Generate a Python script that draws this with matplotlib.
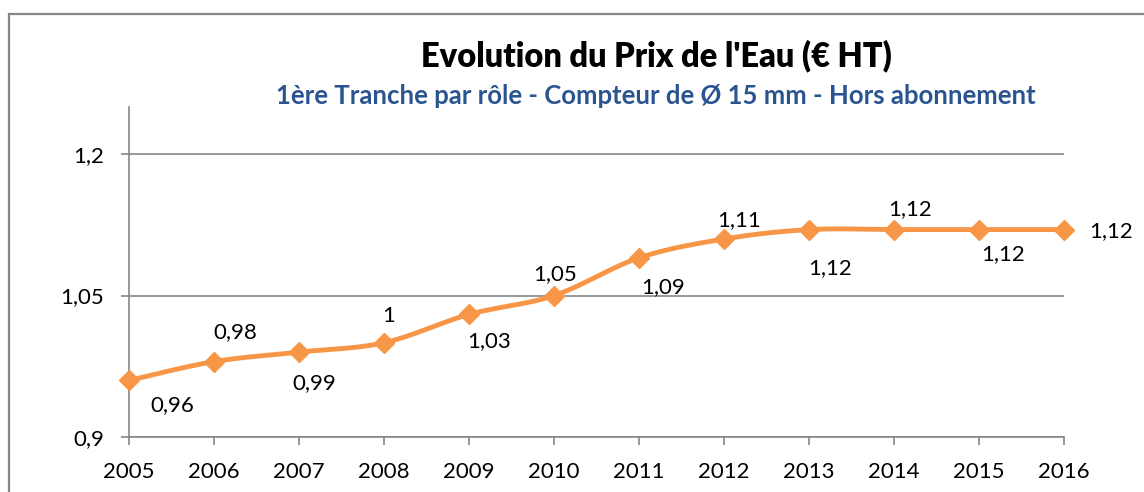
import matplotlib.pyplot as plt
import numpy as np
from matplotlib.patches import Rectangle
from matplotlib.ticker import FuncFormatter

# Data
years = [2005, 2006, 2007, 2008, 2009, 2010, 2011, 2012, 2013, 2014, 2015, 2016]
prix = [0.96, 0.98, 0.99, 1.00, 1.03, 1.05, 1.09, 1.11, 1.12, 1.12, 1.12, 1.12]
labels = ['0,96', '0,98', '0,99', '1', '1,03', '1,05', '1,09', '1,11', '1,12', '1,12', '1,12', '1,12']
yticks = [0.9, 1.05, 1.2]

# label offsets in pixels (dx, dy) relative to the point, as placed in the original
label_offsets = [(43, -25), (21, 29), (15, -31), (5, 27), (20, -27), (1, 21),
                 (24, -29), (15, 19), (21, -39), (16, 20), (24, -25), (47, -2)]

plt.rcParams['font.family'] = ['Lato', 'DejaVu Sans']
grey = '#868686'
orange = '#F79646'


def smooth(x, y, n=30):
    # Catmull-Rom style smoothing like Excel's smoothed line
    x = np.asarray(x, float)
    y = np.asarray(y, float)
    px = np.concatenate([[x[0]], x, [x[-1]]])
    py = np.concatenate([[y[0]], y, [y[-1]]])
    xs, ys = [], []
    for i in range(1, len(px) - 2):
        t = np.linspace(0, 1, n)
        p0, p1, p2, p3 = px[i - 1], px[i], px[i + 1], px[i + 2]
        q0, q1, q2, q3 = py[i - 1], py[i], py[i + 1], py[i + 2]
        b1x, b1y = p1 + (p2 - p0) / 6, q1 + (q2 - q0) / 6
        b2x, b2y = p2 - (p3 - p1) / 6, q2 - (q3 - q1) / 6
        bx = (1 - t) ** 3 * p1 + 3 * (1 - t) ** 2 * t * b1x + 3 * (1 - t) * t ** 2 * b2x + t ** 3 * p2
        by = (1 - t) ** 3 * q1 + 3 * (1 - t) ** 2 * t * b1y + 3 * (1 - t) * t ** 2 * b2y + t ** 3 * q2
        xs.extend(bx)
        ys.extend(by)
    return xs, ys


fig = plt.figure(figsize=(11.44, 4.92), dpi=100)
ax = fig.add_axes([129 / 1144, 1 - 437 / 492, (1064 - 129) / 1144, (437 - 107) / 492])

# outer chart frame
fig.patches.append(Rectangle((9 / 1144, -0.1), 1.2, 1 - 14 / 492 + 0.1, transform=fig.transFigure,
                             fill=False, edgecolor=grey, linewidth=1.6))

sx, sy = smooth(years, prix)
ax.plot(sx, sy, color=orange, linewidth=3.5, solid_capstyle='round', zorder=3)
ax.plot(years, prix, linestyle='none', marker='D', markersize=10.5, color=orange, zorder=4, clip_on=False)

for x, y, lab, (dx, dy) in zip(years, prix, labels, label_offsets):
    ax.annotate(lab, (x, y), xytext=(dx, dy), textcoords='offset pixels',
                ha='center', va='center', fontsize=16, color='black', annotation_clip=False)

ax.set_xlim(2005, 2016)
ax.set_ylim(0.9, 1.25)
ax.set_xticks(years)
ax.set_yticks(yticks)
ax.yaxis.set_major_formatter(FuncFormatter(lambda v, p: ('%g' % v).replace('.', ',')))
ax.tick_params(axis='both', labelsize=16, color=grey, width=1.2, length=6, pad=12)
ax.grid(axis='y', color=grey, linewidth=1.2)
ax.set_axisbelow(True)
for s in ['top', 'right']:
    ax.spines[s].set_visible(False)
for s in ['left', 'bottom']:
    ax.spines[s].set_color(grey)
    ax.spines[s].set_linewidth(1.2)

fig.text(0.574, 1 - 56 / 492, "Evolution du Prix de l'Eau (€ HT)", ha='center', va='center',
         fontsize=23.5, fontweight='heavy', color='black')
fig.text(0.573, 1 - 96 / 492, "1ère Tranche par rôle - Compteur de Ø 15 mm - Hors abonnement",
         ha='center', va='center', fontsize=18.5, fontweight='bold', color='#2A5490')

fig.savefig('out.png', dpi=100)
